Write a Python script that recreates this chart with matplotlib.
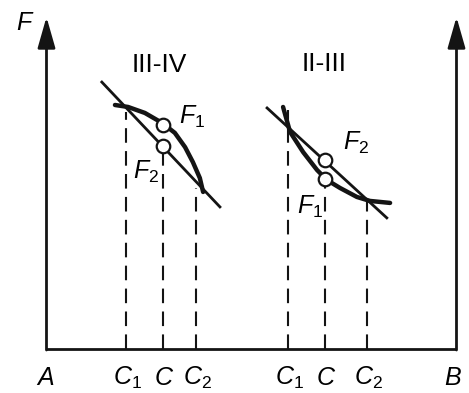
import matplotlib.pyplot as plt

plt.rcParams['font.family'] = ['Liberation Sans', 'DejaVu Sans']
plt.rcParams['mathtext.fontset'] = 'custom'
plt.rcParams['mathtext.it'] = 'Liberation Sans:italic'
plt.rcParams['mathtext.rm'] = 'Liberation Sans'

# composition axis A..B = 0..100, free energy F = 0..100
# left pair (III-IV): straight tangent line and bulged curve
left_line_x = [13.5, 42.3]
left_line_F = [80.4, 42.8]
left_curve_x = [16.7, 19.9, 24.0, 28.2, 31.3, 33.8, 35.7, 37.4, 38.2]
left_curve_F = [73.5, 72.9, 71.1, 68.1, 65.1, 60.8, 56.3, 51.5, 47.3]

# right pair (II-III)
right_line_x = [53.8, 83.0]
right_line_F = [72.6, 39.5]
right_curve_x = [57.7, 59.4, 62.6, 66.0, 68.4, 71.6, 75.7, 78.9, 83.8]
right_curve_F = [72.9, 65.4, 59.3, 53.9, 50.9, 48.5, 45.8, 44.6, 44.0]

# compositions C1, C, C2 and the height where each dashed drop-line starts
left_C = [19.4, 28.4, 36.5]
left_C_top = [71.4, 59.3, 48.5]
right_C = [58.9, 67.9, 78.2]
right_C_top = [72.0, 48.8, 44.9]
C_labels = ['$\\mathit{C_1}$', '$\\mathit{C}$', '$\\mathit{C_2}$']

# open circles at composition C on both curves
left_circ_F = [67.5, 61.2]
right_circ_F = [56.8, 51.3]

fig = plt.figure(figsize=(4.69, 3.93), dpi=100)
ax = fig.add_axes([0, 0, 1, 1])
ax.set_xlim(-11.34, 103.05)
ax.set_ylim(-13.25, 105.12)
ax.axis('off')

ink = '#141414'

# frame: bottom axis and two F axes with arrows
ax.plot([0, 100], [0, 0], color=ink, lw=2.0, solid_capstyle='butt')
for xa in (0, 100):
    ax.annotate('', xy=(xa, 100), xytext=(xa, -0.3),
                arrowprops=dict(arrowstyle='-|>,head_length=1.05,head_width=0.3',
                                mutation_scale=18, lw=2.0, color=ink,
                                shrinkA=0, shrinkB=0))

for cx, top in zip(left_C + right_C, left_C_top + right_C_top):
    ax.plot([cx, cx], [0, top], color=ink, lw=1.5, dashes=(7, 4))

ax.plot(left_line_x, left_line_F, color=ink, lw=2.0)
ax.plot(left_curve_x, left_curve_F, color=ink, lw=3.2,
        solid_joinstyle='round', solid_capstyle='round')
ax.plot(right_line_x, right_line_F, color=ink, lw=2.0)
ax.plot(right_curve_x, right_curve_F, color=ink, lw=3.2,
        solid_joinstyle='round', solid_capstyle='round')

ax.scatter([left_C[1]] * 2, left_circ_F, s=95, facecolor='white',
           edgecolor=ink, linewidth=1.6, zorder=5)
ax.scatter([right_C[1]] * 2, right_circ_F, s=95, facecolor='white',
           edgecolor=ink, linewidth=1.6, zorder=5)

fs = 18
ax.text(-5.2, 98.2, '$\\mathit{F}$', fontsize=fs, ha='center', va='center')
ax.text(-0.4, -8.7, '$\\mathit{A}$', fontsize=fs, ha='center', va='center')
ax.text(99.1, -8.7, '$\\mathit{B}$', fontsize=fs, ha='center', va='center')
for cx, lab in zip(left_C, C_labels):
    ax.text(cx + 0.3, -8.7, lab, fontsize=fs, ha='center', va='center')
for cx, lab in zip(right_C, C_labels):
    ax.text(cx + 0.3, -8.7, lab, fontsize=fs, ha='center', va='center')

ax.text(27.4, 85.4, 'III-IV', fontsize=19, ha='center', va='center')
ax.text(67.7, 85.8, 'II-III', fontsize=19, ha='center', va='center')

ax.text(35.6, 70.0, '$\\mathit{F_1}$', fontsize=fs, ha='center', va='center')
ax.text(24.3, 53.3, '$\\mathit{F_2}$', fontsize=fs, ha='center', va='center')
ax.text(75.4, 62.0, '$\\mathit{F_2}$', fontsize=fs, ha='center', va='center')
ax.text(64.3, 42.8, '$\\mathit{F_1}$', fontsize=fs, ha='center', va='center')

fig.savefig('out.png', dpi=100)
